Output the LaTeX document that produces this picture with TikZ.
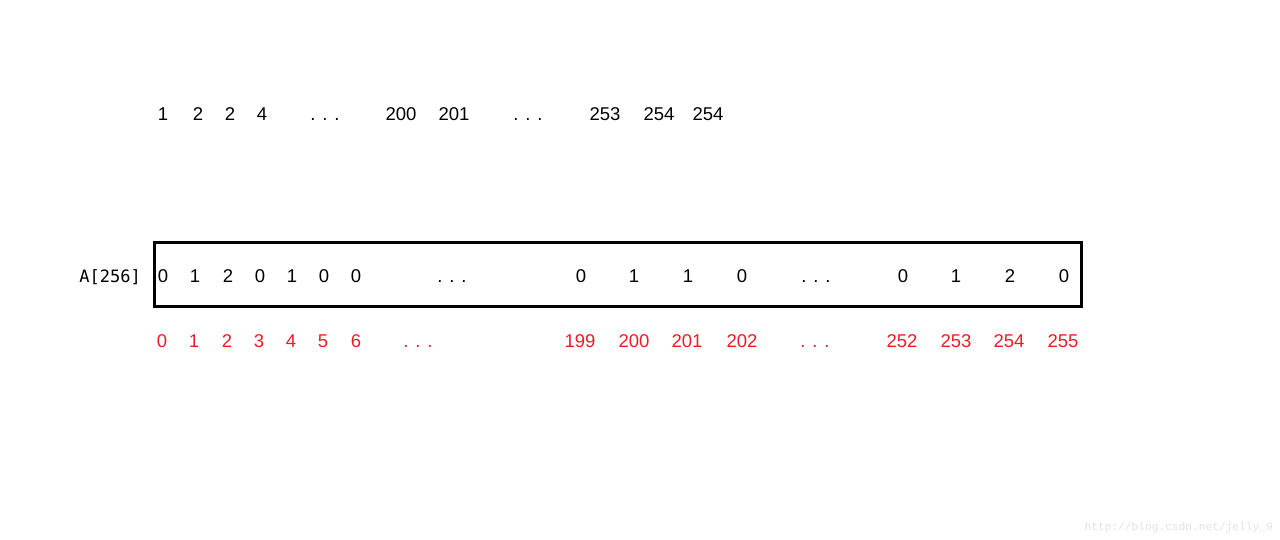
\documentclass[tikz,border=0pt]{standalone}
\usepackage{fontspec}
\setmainfont{Liberation Sans}
\newfontfamily\labelmono{DejaVu Sans Mono}
\newfontfamily\wmmono{Liberation Mono}
\definecolor{idxred}{RGB}{237,28,36}
\definecolor{wmgray}{RGB}{225,225,225}
\tikzset{
  num/.style={anchor=base, inner sep=0pt, font=\fontsize{18.5}{20}\selectfont},
  idx/.style={num, text=idxred},
  arrbox/.style={draw, line width=3pt, inner sep=0pt, minimum width=927pt, minimum height=63pt},
}
\begin{document}
\begin{tikzpicture}[x=1pt,y=-1pt]
\useasboundingbox (0,0) rectangle (1280,540);
% top row
\foreach \x/\t [count=\i] in {163/1,198/2,230/2,262/4,325/{. . .},401/200,454/201,528/{. . .},605/253,659/254,708/254}
  \node[num] (t\i) at (\x,121) {\t};
% array box
\node[arrbox] (arr) at (617.5,274.5) {};
\node[anchor=base east, inner sep=0pt, font=\labelmono\fontsize{17}{19}\selectfont] (lab) at (141,283) {A[256]};
\foreach \x/\t [count=\i] in {163/0,195/1,228/2,260/0,292/1,324/0,356/0,452/{. . .},581/0,634/1,688/1,742/0,816/{. . .},903/0,956/1,1010/2,1064/0}
  \node[num] (v\i) at (\x,283) {\t};
% index row
\foreach \x/\t [count=\i] in {162/0,194/1,227/2,259/3,291/4,323/5,356/6,418/{. . .},580/199,634/200,687/201,742/202,815/{. . .},902/252,956/253,1009/254,1063/255}
  \node[idx] (i\i) at (\x,347) {\t};
% watermark
\node[anchor=base east, inner sep=0pt, text=wmgray, font=\wmmono\fontsize{11.2}{13}\selectfont] (wm) at (1273,530) {http://blog.csdn.net/jelly\_9};
\end{tikzpicture}
\end{document}
